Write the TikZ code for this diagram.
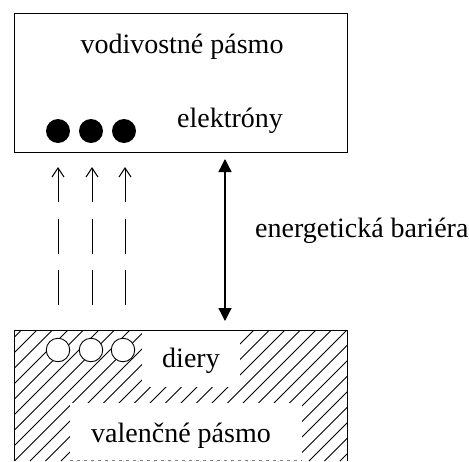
\documentclass[tikz,border=0pt]{standalone}
\usepackage{fontspec}
\setmainfont{Liberation Serif}
\usetikzlibrary{arrows.meta}
\begin{document}
\begin{tikzpicture}[x=1pt,y=-1pt,
  lbl/.style={font=\fontsize{28}{32}\selectfont, inner sep=0pt, anchor=base},
  band/.style={draw=black, line width=1pt},
  elec/.style={circle, fill=black, minimum size=24pt, inner sep=0pt},
  hole/.style={circle, draw=black, fill=white, line width=0.9pt, minimum size=23.5pt, inner sep=0pt},
  jump/.style={line width=1pt, dash pattern=on 35pt off 16.5pt, -{Straight Barb[length=9pt,width=12pt,line width=1.1pt]}},
  gap/.style={line width=1.3pt, {Triangle[width=13pt,length=13pt]}-{Triangle[width=13pt,length=13pt]}},
  hatch/.style={line width=1pt}
]
\useasboundingbox (0,0) rectangle (469,461);
\fill[white] (0,0) rectangle (469,461);
% conduction band
\node[band, minimum width=333pt, minimum height=139pt, inner sep=0pt] (cb) at (180.5,82.5) {};
\node[lbl] (cbtext) at (182,53) {vodivostné pásmo};
\node[lbl] (eltext) at (230,127) {elektróny};
\node[elec] (e1) at (58,131) {};
\node[elec] (e2) at (91,131) {};
\node[elec] (e3) at (124,131) {};
% valence band hatching
\begin{scope}
  \clip (14,330) rectangle (347,461);
  \foreach \k in {0,...,32} {
    \draw[hatch] ({-125+\k*15.5},461) -- ({-125+\k*15.5+131},330);
  }
\end{scope}
\fill[white] (142,331) rectangle (240,387);
\fill[white] (70,403) rectangle (302,461);
\draw[band] (14,461) -- (14,330) -- (347,330) -- (347,461);
\draw[gray, line width=0.8pt, dash pattern=on 3pt off 4pt] (70,460) -- (302,460);
\node[inner sep=0pt, minimum width=333pt, minimum height=131pt] (vb) at (180.5,395.5) {};
\node[hole] (h1) at (58,350) {};
\node[hole] (h2) at (91,350) {};
\node[hole] (h3) at (123,350) {};
\node[lbl] (hotext) at (191,367) {diery};
\node[lbl] (vbtext) at (181,442) {valenčné pásmo};
% excitation arrows
\coordinate (a1s) at (58,305); \coordinate (a1e) at (58,167);
\coordinate (a2s) at (92,305); \coordinate (a2e) at (92,167);
\coordinate (a3s) at (125,305); \coordinate (a3e) at (125,167);
\draw[jump] (a1s) -- (a1e);
\draw[jump] (a2s) -- (a2e);
\draw[jump] (a3s) -- (a3e);
% energy gap
\coordinate (gtop) at (225,159);
\coordinate (gbot) at (225,321);
\draw[gap] (gtop) -- (gbot);
\node[lbl, anchor=base west] (gaptext) at (255,237) {energetická bariéra};
\end{tikzpicture}
\end{document}
